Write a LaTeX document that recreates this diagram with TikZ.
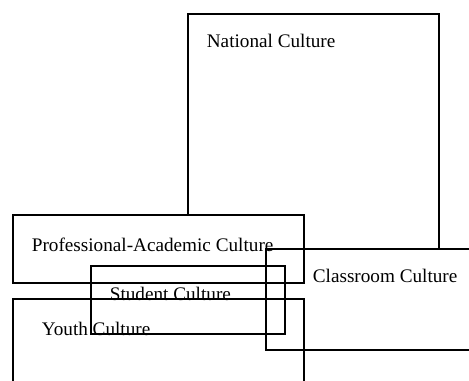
\documentclass[tikz,border=0pt]{standalone}
\usepackage{fontspec}
\setmainfont{Liberation Serif}
\usepackage{tikz}

\begin{document}
\begin{tikzpicture}[x=0.75pt,y=-0.75pt,line width=1.3pt]
\tikzset{culture/.style={anchor=west,inner sep=0pt,font=\fontsize{14.4}{17}\selectfont}}
\useasboundingbox (0,0) rectangle (469,380);
% boxes
\draw (188,215) -- (188,14) -- (439,14) -- (439,249);
\draw (13,215) rectangle (304,283);
\draw (266,249) rectangle (480,350);
\draw (91,266) rectangle (285,334);
\draw (13,390) -- (13,299) -- (304,299) -- (304,390);
% labels
\node[culture] (nat) at (206,41) {National Culture};
\node[culture] (pac) at (31,245) {Professional-Academic Culture};
\node[culture] (cls) at (312,276) {Classroom Culture};
\node[culture] (stu) at (109,294) {Student Culture};
\node[culture] (yth) at (41,329) {Youth Culture};
\end{tikzpicture}
\end{document}
